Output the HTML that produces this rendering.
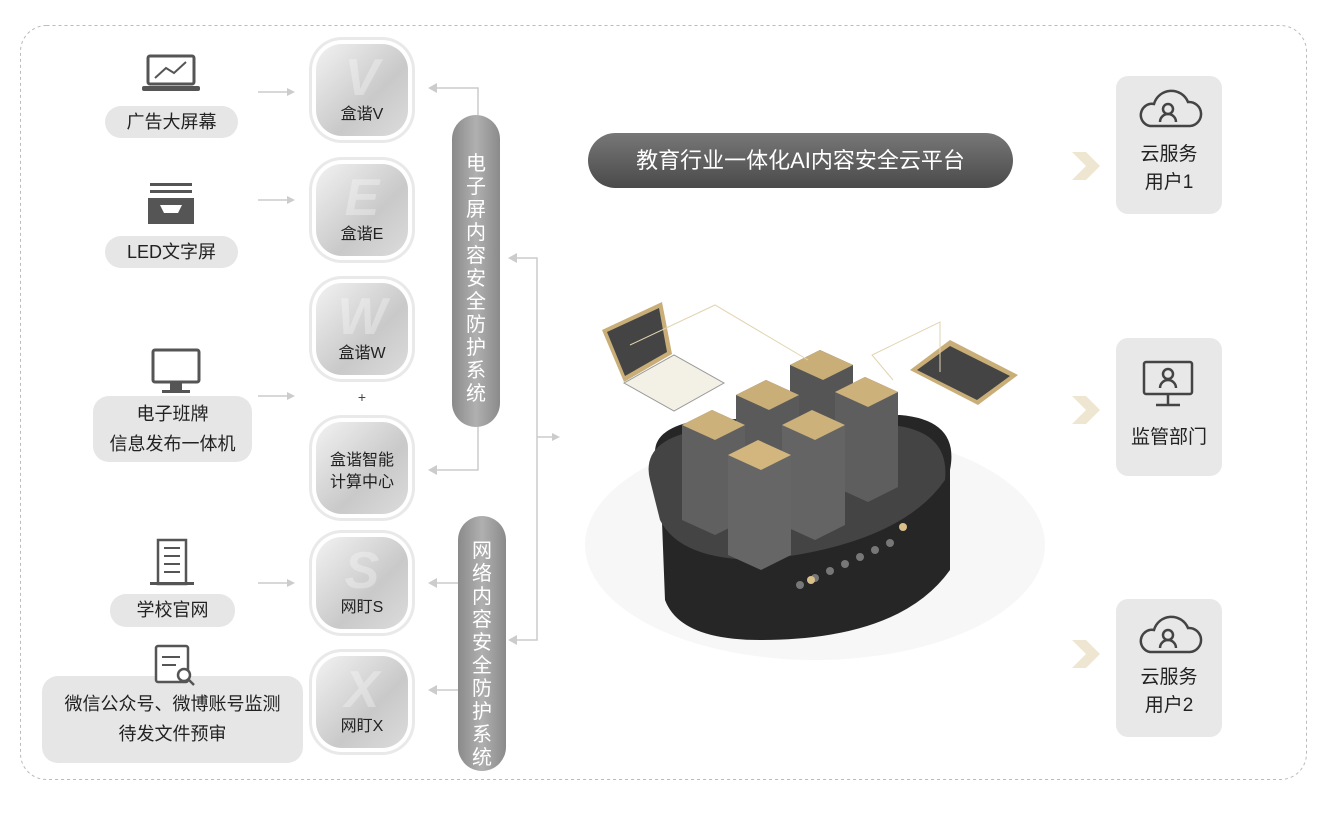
<!DOCTYPE html>
<html><head><meta charset="utf-8"><style>
body{margin:0;background:#fff;font-family:"Liberation Sans","Noto Sans CJK SC",sans-serif}
.w{position:relative;width:1326px;height:813px;overflow:hidden}
.pill{position:absolute;background:#e6e6e6;border-radius:16px;color:#222;font-size:18px;text-align:center}
.tile{position:absolute;width:92px;height:92px;border-radius:26px;background:linear-gradient(135deg,#f2f2f2,#c9c9c9 60%,#dcdcdc);box-shadow:0 0 0 4px #fff,0 0 0 7px #e9e9e9;text-align:center;color:#222;font-size:16px}
.tile .L{position:absolute;left:0;right:0;top:4px;font-size:52px;font-style:italic;font-weight:bold;color:rgba(255,255,255,.3)}
.tile .t{position:absolute;left:0;right:0;bottom:12px}
.vp{position:absolute;width:48px;border-radius:24px;background:linear-gradient(90deg,#8a8a8a,#b0b0b0 50%,#8a8a8a);color:#fff;font-size:20px;text-align:center;line-height:23px;box-sizing:border-box}
.rb{position:absolute;left:1116px;width:106px;height:138px;background:#e8e8e8;border-radius:12px;text-align:center;font-size:19px;color:#222;line-height:28px}
</style></head><body><div class="w">
<svg width="1326" height="813" style="position:absolute;left:0;top:0">
<rect x="20.5" y="25.5" width="1286" height="754" rx="26" fill="none" stroke="#bbb" stroke-dasharray="3,3"/>
<g stroke="#ccc" stroke-width="1.5" fill="none">
<path d="M258 92H290M258 200H290M258 396H290M258 583H290M258 690H290"/>
<path d="M478 115V88H432M478 427V470H432M458 583H432M458 690H432"/>
<path d="M512 258H537V640H512M537 437H556"/>
</g>
<g fill="#ccc">
<path d="M295 92l-8-4v8zM295 200l-8-4v8zM295 396l-8-4v8zM295 583l-8-4v8zM295 690l-8-4v8z"/>
<path d="M428 88l9-5v10zM428 470l9-5v10zM428 583l9-5v10zM428 690l9-5v10zM508 258l9-5v10zM508 640l9-5v10zM560 437l-8-4v8z"/>
</g>
<g fill="#555">
<rect x="148" y="56" width="46" height="28" rx="2" fill="none" stroke="#555" stroke-width="3"/>
<rect x="142" y="86" width="58" height="5" rx="2"/>
<polyline points="155,78 166,68 174,73 186,62" fill="none" stroke="#555" stroke-width="2"/>
<rect x="150" y="183" width="42" height="3"/><rect x="150" y="190" width="42" height="3"/>
<path d="M148 198h46v26h-46z"/><path d="M160 205h22l-4 8h-14z" fill="#fff"/>
<rect x="153" y="350" width="46" height="32" rx="2" fill="none" stroke="#555" stroke-width="3"/>
<rect x="170" y="382" width="12" height="8"/><rect x="162" y="390" width="28" height="3"/>
<rect x="158" y="540" width="28" height="44" fill="none" stroke="#555" stroke-width="2.5"/>
<path d="M164 548h16M164 556h16M164 564h16M164 572h16" stroke="#555" stroke-width="2"/>
<rect x="150" y="582" width="44" height="3"/>
</g>
<text x="362" y="402" font-size="14" fill="#444" text-anchor="middle">+</text>
<ellipse cx="815" cy="545" rx="230" ry="115" fill="#f7f7f7"/>
<path d="M660 470 Q640 430 700 420 L900 415 Q960 420 950 470 L950 570 Q900 640 760 640 Q680 640 665 600 Z" fill="#262626"/>
<path d="M650 480 Q640 440 700 430 L890 425 Q950 430 945 480 Q900 545 760 560 Q680 560 660 520 Z" fill="#444"/>
<g fill="#777"><circle cx="800" cy="585" r="4"/><circle cx="815" cy="578" r="4"/><circle cx="830" cy="571" r="4"/><circle cx="845" cy="564" r="4"/><circle cx="860" cy="557" r="4"/><circle cx="875" cy="550" r="4"/><circle cx="890" cy="543" r="4"/></g>
<circle cx="903" cy="527" r="4" fill="#d9c08a"/><circle cx="811" cy="580" r="4" fill="#d9c08a"/>
<g>
<path d="M790 365l30-15 33 15v90l-30 15-33-15z" fill="#555"/><path d="M790 365l30-15 33 15-30 15z" fill="#c9ae78"/>
<path d="M736 395l30-15 33 15v90l-30 15-33-15z" fill="#5a5a5a"/><path d="M736 395l30-15 33 15-30 15z" fill="#c9ae78"/>
<path d="M835 392l30-15 33 15v95l-30 15-33-15z" fill="#5e5e5e"/><path d="M835 392l30-15 33 15-30 15z" fill="#cdb17a"/>
<path d="M682 425l30-15 33 15v95l-30 15-33-15z" fill="#606060"/><path d="M682 425l30-15 33 15-30 15z" fill="#cdb17a"/>
<path d="M782 425l30-15 33 15v100l-30 15-33-15z" fill="#646464"/><path d="M782 425l30-15 33 15-30 15z" fill="#cdb17a"/>
<path d="M728 455l30-15 33 15v100l-30 15-33-15z" fill="#666"/><path d="M728 455l30-15 33 15-30 15z" fill="#d2b67e"/>
</g>
<path d="M602 330l60-28 10 52-48 28z" fill="#c9ae78"/><path d="M607 332l52-24 8 44-42 24z" fill="#444"/>
<path d="M624 383l50-28 50 28-50 28z" fill="#f3f0e6" stroke="#999"/>
<path d="M910 370l40-30 68 35-40 30z" fill="#c9ae78"/><path d="M917 370l33-24 60 30-33 24z" fill="#444"/>
<polyline points="630,345 715,305 808,360" fill="none" stroke="#e2d3b0"/>
<polyline points="940,372 940,322 872,355 893,380" fill="none" stroke="#e2d3b0"/>
<g fill="#efe6d2"><path d="M1072 152h14l14 14-14 14h-14l14-14z"/><path d="M1072 396h14l14 14-14 14h-14l14-14z"/><path d="M1072 640h14l14 14-14 14h-14l14-14z"/></g>
</svg>

<div class="pill" style="left:105px;top:106px;width:133px;height:32px;line-height:32px">广告大屏幕</div>
<div class="pill" style="left:105px;top:236px;width:133px;height:32px;line-height:32px">LED文字屏</div>
<div class="pill" style="left:93px;top:396px;width:159px;height:66px;line-height:30px;padding-top:3px;box-sizing:border-box">电子班牌<br>信息发布一体机</div>
<div class="pill" style="left:110px;top:594px;width:125px;height:33px;line-height:33px">学校官网</div>
<div class="pill" style="left:42px;top:676px;width:261px;height:87px;line-height:30px;padding-top:13px;box-sizing:border-box">微信公众号、微博账号监测<br>待发文件预审</div>

<div class="tile" style="left:316px;top:44px"><div class="L">V</div><div class="t">盒谐V</div></div>
<div class="tile" style="left:316px;top:164px"><div class="L">E</div><div class="t">盒谐E</div></div>
<div class="tile" style="left:316px;top:283px"><div class="L">W</div><div class="t">盒谐W</div></div>
<div class="tile" style="left:316px;top:422px"><div class="t" style="bottom:20px;line-height:22px">盒谐智能<br>计算中心</div></div>
<div class="tile" style="left:316px;top:537px"><div class="L">S</div><div class="t">网盯S</div></div>
<div class="tile" style="left:316px;top:656px"><div class="L">X</div><div class="t">网盯X</div></div>

<div class="vp" style="left:452px;top:115px;height:312px;padding-top:38px">电<br>子<br>屏<br>内<br>容<br>安<br>全<br>防<br>护<br>系<br>统</div>
<div class="vp" style="left:458px;top:516px;height:255px;padding-top:24px">网<br>络<br>内<br>容<br>安<br>全<br>防<br>护<br>系<br>统</div>

<div style="position:absolute;left:588px;top:133px;width:425px;height:55px;border-radius:28px;background:linear-gradient(#777,#4a4a4a);color:#fff;font-size:22px;line-height:55px;text-align:center">教育行业一体化AI内容安全云平台</div>

<div class="rb" style="top:76px;padding-top:65px;box-sizing:border-box">云服务<br>用户1</div>
<div class="rb" style="top:338px;padding-top:86px;box-sizing:border-box">监管部门</div>
<div class="rb" style="top:599px;padding-top:65px;box-sizing:border-box">云服务<br>用户2</div>

<svg width="1326" height="813" style="position:absolute;left:0;top:0;pointer-events:none">
<g fill="none" stroke="#444" stroke-width="2.5">
<path d="M1150 126h40a12 12 0 0 0-2-24 18 18 0 0 0-34 2 11 11 0 0 0-4 22z"/><circle cx="1168" cy="109" r="5"/><path d="M1160 122a8 8 0 0 1 16 0"/>
<path d="M1150 652h40a12 12 0 0 0-2-24 18 18 0 0 0-34 2 11 11 0 0 0-4 22z"/><circle cx="1168" cy="635" r="5"/><path d="M1160 648a8 8 0 0 1 16 0"/>
<rect x="1144" y="362" width="48" height="32" rx="2"/><circle cx="1168" cy="374" r="5"/><path d="M1160 388a8 8 0 0 1 16 0M1168 394v10M1156 405h24"/>
</g>
<g fill="none" stroke="#555" stroke-width="2.5">
<rect x="156" y="646" width="32" height="36" rx="2" fill="#fff"/>
<path d="M162 657h18M162 665h14" stroke-width="2"/>
<circle cx="184" cy="675" r="6" fill="#fff"/><path d="M188 679l6 6"/>
</g>
</svg>
</div></body></html>
